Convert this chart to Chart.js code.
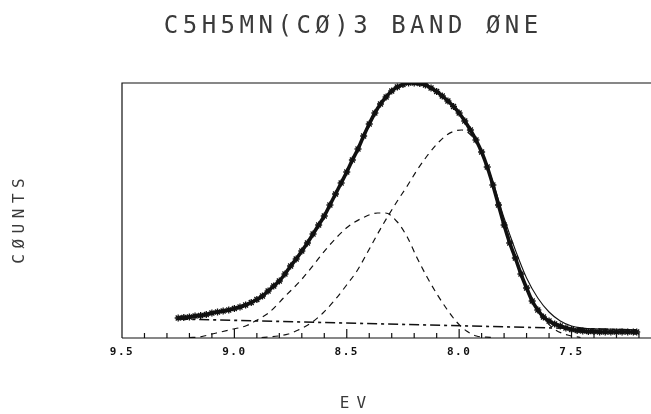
<!DOCTYPE html>
<html><head><meta charset="utf-8">
<script src="https://cdn.jsdelivr.net/npm/chart.js@4.4.0/dist/chart.umd.min.js"></script>
<style>html,body{margin:0;padding:0;background:#fff;}canvas{display:block}</style>
</head><body>
<canvas id="c" width="651" height="414"></canvas>
<script>
const titleText = 'C5H5MN(CØ)3 BAND ØNE';
const yTitleText = 'CØUNTS';
const xTitleText = 'EV';
const tickValues = [7.5, 8.0, 8.5, 9.0, 9.5];
const tickLabels = ['7.5', '8.0', '8.5', '9.0', '9.5'];
const minorTickValues = [7.2, 7.3, 7.4, 7.6, 7.7, 7.8, 7.9, 8.1, 8.2, 8.3, 8.4, 8.6, 8.7, 8.8, 8.9, 9.1, 9.2, 9.3, 9.4];

const measuredEV = [9.250, 9.225, 9.200, 9.175, 9.150, 9.125, 9.100, 9.075, 9.050, 9.025, 9.000, 8.975, 8.950, 8.925, 8.900, 8.875, 8.850, 8.825, 8.800, 8.775, 8.750, 8.725, 8.700, 8.675, 8.650, 8.625, 8.600, 8.575, 8.550, 8.525, 8.500, 8.475, 8.450, 8.425, 8.400, 8.375, 8.350, 8.325, 8.300, 8.275, 8.250, 8.225, 8.200, 8.175, 8.150, 8.125, 8.100, 8.075, 8.050, 8.025, 8.000, 7.975, 7.950, 7.925, 7.900, 7.875, 7.850, 7.825, 7.800, 7.775, 7.750, 7.725, 7.700, 7.675, 7.650, 7.625, 7.600, 7.575, 7.550, 7.525, 7.500, 7.475, 7.450, 7.425, 7.400, 7.375, 7.350, 7.325, 7.300, 7.275, 7.250, 7.225, 7.210];
const measuredCounts = [20, 20.5, 21, 22, 22.5, 23.5, 25, 26, 27, 28, 29.5, 31, 33, 35.5, 38.5, 42, 47, 52, 57, 64, 72, 79, 87, 95, 104, 113, 122, 133, 144, 155, 166, 178, 189, 202, 214, 225, 234, 241, 247, 251, 253.5, 255, 255, 254.5, 253, 250, 246.5, 242, 237, 231.5, 225, 217, 208, 198, 186, 171, 153, 133, 113, 95, 80, 64, 50, 37, 28, 21, 17, 14, 12, 10, 8.5, 7.5, 7, 6.5, 6.5, 6, 6, 6, 6, 6, 6, 6, 6];

const fitEV = [9.25, 9.20, 9.15, 9.10, 9.05, 9.00, 8.95, 8.90, 8.85, 8.80, 8.75, 8.70, 8.65, 8.60, 8.55, 8.50, 8.45, 8.40, 8.35, 8.30, 8.25, 8.20, 8.15, 8.10, 8.05, 8.00, 7.95, 7.90, 7.85, 7.80, 7.75, 7.70, 7.65, 7.60, 7.55, 7.50, 7.45, 7.40, 7.35, 7.30, 7.25, 7.21];
const fitCounts = [20, 21, 22.5, 25, 27, 29.5, 33, 38.5, 47, 57, 72, 87, 104, 122, 144, 166, 189, 214, 234, 247, 253.5, 255, 253, 246.5, 237, 225, 208, 187, 156, 120, 88, 60, 40, 26, 17, 12, 10, 9.2, 9, 8.7, 8.4, 8.2];

const bandAEV = [9.200, 9.156, 9.099, 9.024, 8.945, 8.892, 8.848, 8.773, 8.703, 8.641, 8.584, 8.496, 8.421, 8.363, 8.328, 8.275, 8.231, 8.187, 8.143, 8.099, 8.055, 8.011, 7.967, 7.923, 7.857];
const bandACounts = [0.5, 1, 4, 8, 12.5, 19, 25, 42, 58, 75, 91, 111, 121, 125, 125, 116, 101, 80, 61, 44, 29, 16, 7, 2, 0.5];

const bandBEV = [8.879, 8.804, 8.760, 8.716, 8.659, 8.606, 8.553, 8.504, 8.452, 8.407, 8.363, 8.319, 8.275, 8.231, 8.187, 8.143, 8.099, 8.055, 8.020, 7.989, 7.958, 7.927, 7.896, 7.866, 7.835, 7.791, 7.747, 7.703, 7.659, 7.615, 7.571, 7.518, 7.460];
const bandBCounts = [0.5, 2, 4, 8, 15, 25, 38, 52, 68, 86, 104, 121, 137, 152, 168, 182, 194, 203, 207, 208, 205, 197, 184, 164, 140, 110, 77, 50, 30, 17, 8, 3, 0.5];

const baselineEV = [9.25, 7.21];
const baselineCounts = [19, 8];

const pts = (xs, ys) => xs.map((x, i) => ({x: x, y: ys[i]}));

function drawSpaced(ctx, text, cx, y, spacing) {
  ctx.letterSpacing = spacing + 'px';
  ctx.textAlign = 'left';
  const w = ctx.measureText(text).width;
  ctx.fillText(text, cx - (w - spacing) / 2, y);
}

const framePlugin = {
  id: 'frame',
  beforeDraw(chart) {
    const ctx = chart.ctx;
    ctx.save();
    ctx.fillStyle = '#fff';
    ctx.fillRect(0, 0, chart.width, chart.height);
    ctx.restore();
    ctx.letterSpacing = '1.5px';
  },
  afterDraw(chart) {
    const ctx = chart.ctx;
    const a = chart.chartArea;
    const xs = chart.scales.x;
    ctx.save();
    ctx.strokeStyle = '#111';
    ctx.lineWidth = 1.2;
    ctx.beginPath();
    ctx.moveTo(a.left, a.bottom);
    ctx.lineTo(a.left, a.top);
    ctx.lineTo(chart.width, a.top);
    ctx.moveTo(a.left, a.bottom);
    ctx.lineTo(chart.width, a.bottom);
    minorTickValues.forEach(v => {
      const px = xs.getPixelForValue(v);
      ctx.moveTo(px, a.bottom);
      ctx.lineTo(px, a.bottom - 5);
    });
    tickValues.forEach(v => {
      const px = xs.getPixelForValue(v);
      ctx.moveTo(px, a.bottom);
      ctx.lineTo(px, a.bottom - 9);
    });
    ctx.stroke();

    ctx.fillStyle = '#3a3a3a';
    ctx.textBaseline = 'alphabetic';
    ctx.font = '24px "DejaVu Sans Mono"';
    drawSpaced(ctx, titleText, 351, 33, 4.5);

    ctx.font = '16px "DejaVu Sans Mono"';
    drawSpaced(ctx, xTitleText, 353, 408, 7);

    ctx.save();
    ctx.translate(24, 221);
    ctx.rotate(-Math.PI / 2);
    drawSpaced(ctx, yTitleText, 0, 0, 5.5);
    ctx.restore();
    ctx.restore();
  }
};

new Chart(document.getElementById('c').getContext('2d'), {
  type: 'line',
  data: {
    datasets: [
      {label: 'measured', data: pts(measuredEV, measuredCounts), borderColor: '#111', backgroundColor: '#111', borderWidth: 3.6,
       pointStyle: 'star', pointRadius: 3.5, pointBorderWidth: 1.3, pointBorderColor: '#111', cubicInterpolationMode: 'monotone', fill: false},
      {label: 'fit', data: pts(fitEV, fitCounts), borderColor: '#111', borderWidth: 1.1, pointRadius: 0, cubicInterpolationMode: 'monotone', fill: false},
      {label: 'band A', data: pts(bandAEV, bandACounts), borderColor: '#111', borderWidth: 1.2, borderDash: [6, 5], pointRadius: 0, cubicInterpolationMode: 'monotone', fill: false},
      {label: 'band B', data: pts(bandBEV, bandBCounts), borderColor: '#111', borderWidth: 1.2, borderDash: [6, 5], pointRadius: 0, cubicInterpolationMode: 'monotone', fill: false},
      {label: 'baseline', data: pts(baselineEV, baselineCounts), borderColor: '#111', borderWidth: 1.6, borderDash: [10, 4, 3, 4], pointRadius: 0, fill: false}
    ]
  },
  options: {
    responsive: false,
    animation: false,
    devicePixelRatio: 1,
    layout: {padding: {left: 122, top: 83, right: 0, bottom: 0}},
    plugins: {legend: {display: false}, title: {display: false}, tooltip: {enabled: false}},
    scales: {
      x: {
        type: 'linear', reverse: true, min: 7.17, max: 9.5,
        grid: {display: false, drawTicks: false},
        border: {display: false},
        afterBuildTicks: s => { s.ticks = tickValues.map(v => ({value: v})); },
        afterFit: s => { s.height = 76; },
        ticks: {
          autoSkip: false, maxRotation: 0, minRotation: 0, padding: 8, color: '#111',
          font: {family: 'DejaVu Sans Mono', size: 11, weight: 'bold'},
          callback: v => { const i = tickValues.indexOf(v); return i >= 0 ? tickLabels[i] : ''; }
        }
      },
      y: {display: false, min: 0, max: 255}
    }
  },
  plugins: [framePlugin]
});
</script>
</body></html>
